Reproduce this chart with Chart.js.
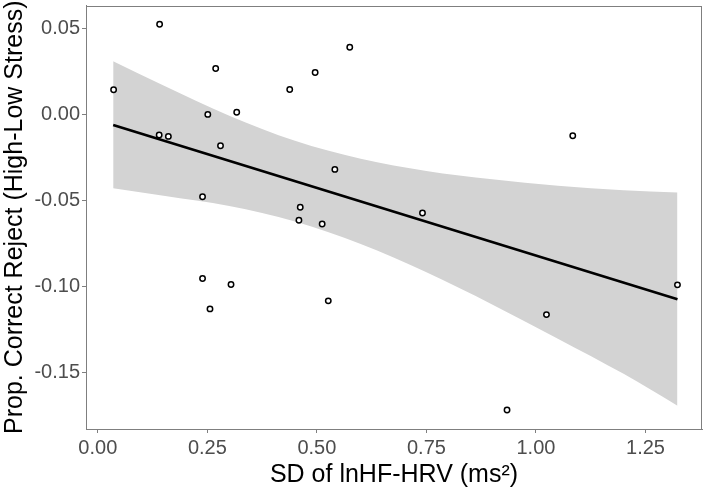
<!DOCTYPE html>
<html>
<head>
<meta charset="utf-8">
<script src="https://cdn.jsdelivr.net/npm/chart.js@4/dist/chart.umd.min.js"></script>
<style>
  html, body { margin: 0; padding: 0; background: #fff; }
</style>
</head>
<body>
<canvas id="chart" width="709" height="499"></canvas>
<script>
"use strict";

// observed points: SD of lnHF-HRV vs change in correct reject
var hrvSd = [0.036, 0.141, 0.269, 0.251, 0.317, 0.140, 0.161, 0.280, 0.239, 0.239, 0.304, 0.256,
  0.575, 0.496, 0.438, 0.541, 0.462, 0.459, 0.512, 0.741, 0.526, 1.084, 1.323, 1.024, 0.934];
var correctReject = [0.0144, 0.0525, 0.0267, 0.0000, 0.0013, -0.0120, -0.0128, -0.0182, -0.0479, -0.0955, -0.0990, -0.1132,
  0.0391, 0.0244, 0.0145, -0.0320, -0.0540, -0.0616, -0.0638, -0.0574, -0.1085, -0.0124, -0.0992, -0.1165, -0.1720];

// regression line ends
var fitX = [0.035, 1.323];
var fitY = [-0.0062, -0.1076];

// confidence band read at a few x positions
var bandX = [0.035, 0.15, 0.3, 0.45, 0.6, 0.75, 0.9, 1.05, 1.2, 1.323];
var bandUpper = [0.0310, 0.0169, -0.0007, -0.0153, -0.0258, -0.0329, -0.0378, -0.0415, -0.0442, -0.0455];
var bandLower = [-0.0430, -0.0473, -0.0533, -0.0623, -0.0754, -0.0919, -0.1106, -0.1305, -0.1510, -0.1695];

var xTicks = [0, 0.25, 0.5, 0.75, 1, 1.25];
var yTicks = [-0.15, -0.1, -0.05, 0, 0.05];

function pairs(xs, ys) {
  return xs.map(function (x, i) { return { x: x, y: ys[i] }; });
}

var fontFam = "'Liberation Sans', Arial, sans-serif";
var grayLine = "#7f7f7f";

// box around the panel
var panelBorder = {
  id: "panelBorder",
  afterDatasetsDraw: function (chart) {
    var a = chart.chartArea;
    var c = chart.ctx;
    c.save();
    c.strokeStyle = grayLine;
    c.lineWidth = 1;
    c.strokeRect(Math.round(a.left) + 0.5, Math.round(a.top) + 0.5,
      Math.round(a.right - a.left) - 1, Math.round(a.bottom - a.top) - 1);
    c.restore();
  }
};

var ctx = document.getElementById("chart");

new Chart(ctx, {
  type: "scatter",
  data: {
    datasets: [
      {
        label: "points",
        data: pairs(hrvSd, correctReject),
        pointRadius: 2.7,
        pointBorderWidth: 1.5,
        pointBorderColor: "#000",
        pointBackgroundColor: "#fff",
        showLine: false
      },
      {
        label: "fit",
        data: pairs(fitX, fitY),
        showLine: true,
        borderColor: "#000",
        borderWidth: 2.6,
        pointRadius: 0,
        fill: false
      },
      {
        label: "upper",
        data: pairs(bandX, bandUpper),
        showLine: true,
        borderWidth: 0,
        borderColor: "rgba(0,0,0,0)",
        pointRadius: 0,
        cubicInterpolationMode: "monotone",
        fill: false
      },
      {
        label: "lower",
        data: pairs(bandX, bandLower),
        showLine: true,
        borderWidth: 0,
        borderColor: "rgba(0,0,0,0)",
        backgroundColor: "rgb(211, 211, 211)",
        pointRadius: 0,
        cubicInterpolationMode: "monotone",
        fill: "-1"
      }
    ]
  },
  plugins: [panelBorder],
  options: {
    responsive: false,
    animation: false,
    layout: { padding: { top: 5, right: 7, left: 0, bottom: 0 } },
    plugins: {
      legend: { display: false },
      tooltip: { enabled: false }
    },
    scales: {
      x: {
        type: "linear",
        min: -0.027,
        max: 1.379,
        afterBuildTicks: function (s) {
          s.ticks = xTicks.map(function (v) { return { value: v }; });
        },
        afterFit: function (s) {
          s.height = 70;
          s.paddingLeft = 0;
          s.paddingRight = 0;
        },
        ticks: {
          callback: function (v) { return Number(v).toFixed(2); },
          color: "#4d4d4d",
          font: { family: fontFam, size: 20 },
          padding: 3,
          maxRotation: 0
        },
        grid: { drawOnChartArea: false, tickLength: 4, tickColor: grayLine, tickWidth: 1 },
        border: { display: true, color: grayLine, width: 1 },
        title: {
          display: true,
          text: "SD of lnHF-HRV (ms\u00b2)",
          color: "#000",
          font: { family: fontFam, size: 25 },
          padding: { top: 0, bottom: 9 }
        }
      },
      y: {
        type: "linear",
        min: -0.1831,
        max: 0.0634,
        afterBuildTicks: function (s) {
          s.ticks = yTicks.map(function (v) { return { value: v }; });
        },
        afterFit: function (s) {
          s.width = 86;
          s.paddingTop = 0;
          s.paddingBottom = 0;
        },
        ticks: {
          callback: function (v) { return Number(v).toFixed(2); },
          color: "#4d4d4d",
          font: { family: fontFam, size: 20 },
          padding: 2
        },
        grid: { drawOnChartArea: false, tickLength: 4, tickColor: grayLine, tickWidth: 1 },
        border: { display: true, color: grayLine, width: 1 },
        title: {
          display: true,
          text: "Prop. Correct Reject (High-Low Stress)",
          color: "#000",
          font: { family: fontFam, size: 25 },
          padding: { top: 0, bottom: 0 }
        }
      }
    }
  }
});
</script>
</body>
</html>
